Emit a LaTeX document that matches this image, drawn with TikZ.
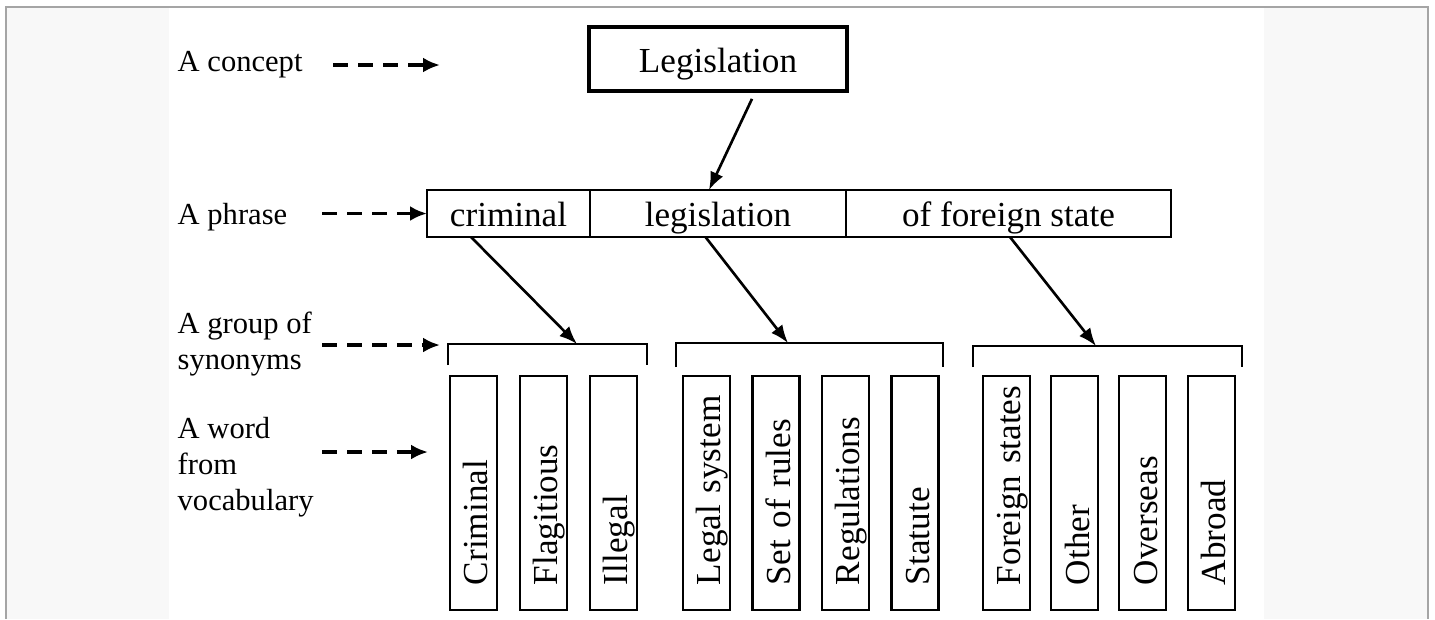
\documentclass[tikz,border=0pt]{standalone}
\usepackage{fontspec}
\setmainfont{Liberation Serif}
\usetikzlibrary{arrows.meta, positioning}
\definecolor{panelgray}{RGB}{248,248,248}
\definecolor{framegray}{RGB}{165,165,165}

\tikzset{
  leftlabel/.style={font=\fontsize{8.7}{10.2}\selectfont, align=left, anchor=west, inner sep=0pt},
  pointer/.style={-{Latex[length=1.7mm,width=1.5mm]}, line width=1pt, dash pattern=on 1.5mm off 1mm},
  link/.style={-{Latex[length=1.8mm,width=1.4mm]}, line width=0.75pt},
  phrasebox/.style={draw, line width=0.6pt, minimum height=4.7mm, outer sep=0pt, inner sep=0pt, text height=9.6pt, text depth=2pt, font=\fontsize{10}{12}\selectfont},
  wordbox/.style={draw, line width=0.6pt, rotate=90, minimum height=4.7mm, text width=23.4mm, text height=8.2pt, text depth=0pt, inner xsep=0pt, inner ysep=0pt, align=left, font=\fontsize{10}{12}\selectfont, execute at begin node=\hspace*{2.5mm}},
  bracket/.style={line width=0.8pt}
}

\begin{document}
\begin{tikzpicture}[x=0.1mm, y=-0.1mm]
    \useasboundingbox (0,0) rectangle (1435,619);

    % Side panels and frame
    \fill[panelgray] (6,7) rectangle (169,619);
    \fill[panelgray] (1264,7) rectangle (1428,619);
    \draw[framegray, line width=0.6pt] (6,619) -- (6,7) -- (1428,7) -- (1428,619);

    % Level names on the left
    \node[leftlabel] (lconcept) at (177,65) {A concept};
    \node[leftlabel] (lphrase) at (177,217) {A phrase};
    \node[leftlabel] (lgroup) at (177,344) {A group of\\synonyms};
    \node[leftlabel] (lword) at (177,467) {A word\\from\\vocabulary};

    % Concept box
    \node[draw, line width=1pt, minimum width=25.8mm, minimum height=6.4mm, text height=9.6pt, text depth=2pt, font=\fontsize{10}{12}\selectfont] (concept) at (718,59) {Legislation};

    % Phrase split into three parts
    \node[phrasebox, minimum width=16.3mm] (crim) at (508.5,213.5) {criminal};
    \node[phrasebox, minimum width=25.6mm, right=0pt of crim] (leg) {legislation};
    \node[phrasebox, minimum width=32.5mm, right=0pt of leg] (foreign) {of foreign state};

    % Synonym groups (brackets)
    \coordinate (grp1) at (577,344);
    \coordinate (grp2) at (788,343);
    \coordinate (grp3) at (1096,346);
    \draw[bracket] (448,365) |- (grp1) -| (647,365);
    \draw[bracket] (676,367) |- (grp2) -| (943,367);
    \draw[bracket] (973,367) |- (grp3) -| (1242,367);

    % Words from vocabulary
    \foreach \x/\txt/\name in {473.5/Criminal/w1, 543.5/Flagitious/w2, 613.5/Illegal/w3,
        706.5/Legal system/w4, 776/Set of rules/w5, 845.5/Regulations/w6, 915/Statute/w7,
        1006.5/Foreign states/w8, 1074.7/Other/w9, 1142.9/Overseas/w10, 1211.1/Abroad/w11} {
        \node[wordbox] (\name) at (\x,493) {\txt};
    }

    % Solid arrows between levels
    \draw[link] ([xshift=3.4mm, yshift=-0.6mm]concept.south) -- ([xshift=-0.9mm]leg.north);
    \draw[link] ([xshift=-3.75mm]crim.south) -- (grp1);
    \draw[link] ([xshift=-1.25mm]leg.south) -- (grp2);
    \draw[link] ([xshift=0.15mm]foreign.south) -- (grp3);

    % Dashed pointers from the level names
    \coordinate (pconcept) at (333,65);
    \coordinate (tconcept) at (440,65);
    \coordinate (pphrase) at (322,213.5);
    \coordinate (pgroup) at (322,345);
    \coordinate (tgroup) at (440,345);
    \coordinate (pword) at (322,452);
    \coordinate (tword) at (428,452);
    \draw[pointer] (pconcept) -- (tconcept);
    \draw[pointer] (pphrase) -- (crim.west);
    \draw[pointer] (pgroup) -- (tgroup);
    \draw[pointer] (pword) -- (tword);
\end{tikzpicture}
\end{document}
